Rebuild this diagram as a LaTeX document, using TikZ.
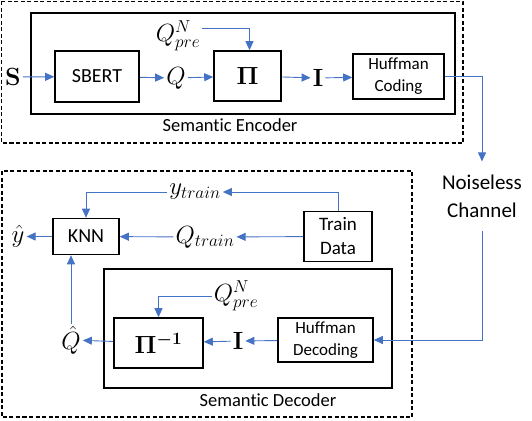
\documentclass[tikz,border=0pt]{standalone}
\usepackage{amsmath,bm}
\usepackage[no-math]{fontspec}
\setmainfont[Ligatures=NoCommon]{Carlito}
\usepackage{tikz}
\usetikzlibrary{arrows.meta, positioning}
\definecolor{flow-blue}{HTML}{4472C4}
\DeclareMathSizes{24}{24}{18}{14}

\begin{document}
\begin{tikzpicture}[x=1pt, y=-1pt,
    box/.style={rectangle, draw, line width=1.6pt, inner sep=0pt, align=center},
    bigbox/.style={box, font=\fontsize{20}{24}\selectfont},
    smallbox/.style={box, font=\fontsize{17}{22}\selectfont},
    sym/.style={inner sep=2pt, font=\fontsize{24}{28}\selectfont},
    caption/.style={inner sep=0pt, font=\fontsize{18.5}{22}\selectfont},
    channel/.style={align=center, inner xsep=0pt, inner ysep=13pt, font=\fontsize{21}{28}\selectfont},
    frame/.style={draw, line width=1.6pt},
    dashframe/.style={frame, dash pattern=on 4pt off 2.5pt},
    arrow/.style={-{Triangle[length=9pt, width=8pt]}, draw=flow-blue, line width=0.9pt}
]
\useasboundingbox (0,0) rectangle (532,420);

% Semantic encoder
\draw[dashframe] (1.5,1.5) rectangle (463,143);
\draw[frame] (31,13) rectangle (455,114);
\node[sym] (s) at (13,77) {$\mathbf{S}$};
\node[bigbox, minimum width=84, minimum height=51] (sbert) at (97,76.5) {SBERT};
\node[sym] (q) at (176,78) {$Q$};
\node[bigbox, minimum width=67, minimum height=50, font=\fontsize{24}{28}\selectfont] (pi) at (247.5,76) {$\mathbf{\Pi}$};
\node[sym] (qpreenc) at (178,36) {$Q^N_{pre}$};
\node[sym] (ienc) at (318,78) {$\mathbf{I}$};
\node[smallbox, minimum width=91, minimum height=45] (huffenc) at (398.5,76.5) {Huffman\\Coding};
\node[caption] (enclabel) at (230,125) {Semantic Encoder};

\draw[arrow] (s) -- (sbert);
\draw[arrow] (sbert) -- (q);
\draw[arrow] (q) -- (pi);
\draw[arrow] (pi) -- (ienc);
\draw[arrow] (ienc) -- (huffenc);
\draw[arrow] ([yshift=8pt]qpreenc.east) -| ([xshift=2pt]pi.north);

% Channel
\node[channel] (channel) at (482,196) {Noiseless\\Channel};
\draw[arrow] (huffenc.east) -| (channel.north);

% Semantic decoder
\draw[dashframe] (2,171) rectangle (412,417);
\draw[frame] (104,269) rectangle (392,388);
\node[bigbox, minimum width=68, minimum height=50, font=\fontsize{19}{24}\selectfont] (train) at (338,236.5) {Train\\Data};
\node[bigbox, minimum width=66, minimum height=36] (knn) at (86,236.5) {KNN};
\node[sym] (ytrain) at (195,192) {$y_{train}$};
\node[sym] (qtrain) at (205,237) {$Q_{train}$};
\node[sym] (yhat) at (18,236.5) {$\hat{y}$};
\node[sym] (qpredec) at (236,296) {$Q^N_{pre}$};
\node[bigbox, minimum width=89, minimum height=50, font=\fontsize{24}{28}\selectfont] (pinv) at (158.5,343) {$\bm{\Pi^{-1}}$};
\node[sym] (idec) at (238,341) {$\mathbf{I}$};
\node[smallbox, minimum width=95, minimum height=44] (huffdec) at (325.5,340) {Huffman\\Decoding};
\node[sym] (qhat) at (71,340) {$\hat{Q}$};
\node[caption] (declabel) at (268,400) {Semantic Decoder};

\draw[arrow] (channel.south) |- (huffdec.east);
\draw[arrow] (huffdec) -- (idec);
\draw[arrow] (idec) -- (pinv);
\draw[arrow] (pinv) -- (qhat);
\draw[arrow] (qpredec.west) -| (pinv.north);
\draw[arrow] (qhat) -- (qhat |- knn.south);
\draw[arrow] (train.north) |- (ytrain.east);
\draw[arrow] (ytrain.west) -| (knn.north);
\draw[arrow] (train) -- (qtrain);
\draw[arrow] (qtrain) -- (knn);
\draw[arrow] (knn) -- (yhat);

\end{tikzpicture}
\end{document}
